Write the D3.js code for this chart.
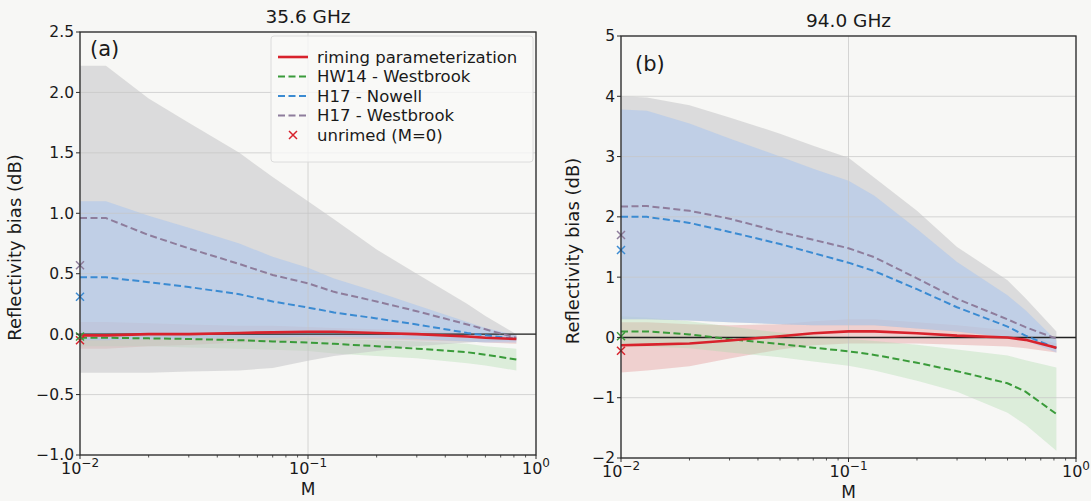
<!DOCTYPE html>
<html><head><meta charset="utf-8">
<script src="https://cdn.jsdelivr.net/npm/d3@7"></script>
<style>
body{margin:0;background:#f7f7f5;}
svg{display:block;font-family:"DejaVu Sans",sans-serif;}
</style></head>
<body><svg id="c" width="1091" height="501"></svg>
<script>
// ---- data ----
const M = [0.01, 0.013, 0.02, 0.03, 0.05, 0.07, 0.1, 0.13, 0.2, 0.3, 0.5, 0.6, 0.82];

// panel (a) 35.6 GHz
const aRiming   = [-0.01, -0.01, 0.0, 0.0, 0.01, 0.015, 0.02, 0.02, 0.01, 0.0, -0.02, -0.03, -0.04];
const aHW14     = [-0.03, -0.03, -0.035, -0.04, -0.05, -0.06, -0.07, -0.08, -0.10, -0.12, -0.15, -0.17, -0.21];
const aNowell   = [0.47, 0.47, 0.43, 0.39, 0.33, 0.27, 0.22, 0.18, 0.13, 0.08, 0.01, -0.01, -0.04];
const aWestb    = [0.96, 0.96, 0.82, 0.71, 0.58, 0.49, 0.42, 0.35, 0.27, 0.19, 0.08, 0.04, -0.03];
const aWestbHi  = [2.22, 2.22, 1.95, 1.75, 1.5, 1.3, 1.1, 0.95, 0.7, 0.5, 0.25, 0.15, 0.0];
const aWestbLo  = [-0.32, -0.32, -0.32, -0.31, -0.3, -0.28, -0.22, -0.18, -0.14, -0.1, -0.07, -0.06, -0.05];
const aNowellHi = [1.1, 1.1, 0.98, 0.88, 0.75, 0.64, 0.55, 0.46, 0.35, 0.24, 0.1, 0.05, -0.01];
const aNowellLo = [-0.05, -0.05, -0.04, -0.04, -0.03, -0.03, -0.02, -0.02, -0.03, -0.04, -0.06, -0.07, -0.07];
const aRimingHi = [0.1, 0.1, 0.09, 0.08, 0.07, 0.07, 0.06, 0.05, 0.04, 0.03, 0.01, 0.0, -0.01];
const aRimingLo = [-0.12, -0.12, -0.1, -0.09, -0.07, -0.06, -0.05, -0.04, -0.04, -0.05, -0.06, -0.07, -0.08];
const aHW14Hi   = [0.02, 0.02, 0.01, 0.0, -0.01, -0.02, -0.03, -0.04, -0.05, -0.06, -0.08, -0.1, -0.12];
const aHW14Lo   = [-0.1, -0.1, -0.1, -0.11, -0.12, -0.13, -0.14, -0.16, -0.18, -0.2, -0.24, -0.26, -0.3];
const aUnrimed  = [-0.05, -0.02, 0.31, 0.57]; // riming, HW14, Nowell, Westbrook

// panel (b) 94.0 GHz
const bRiming   = [-0.13, -0.12, -0.10, -0.05, 0.02, 0.07, 0.10, 0.10, 0.07, 0.03, 0.0, -0.04, -0.17];
const bHW14     = [0.10, 0.10, 0.05, -0.03, -0.11, -0.17, -0.23, -0.29, -0.42, -0.56, -0.76, -0.90, -1.27];
const bNowell   = [2.0, 2.0, 1.90, 1.75, 1.55, 1.40, 1.24, 1.10, 0.80, 0.50, 0.18, 0.03, -0.18];
const bWestb    = [2.17, 2.18, 2.10, 1.97, 1.75, 1.62, 1.48, 1.33, 0.98, 0.64, 0.30, 0.17, -0.02];
const bWestbHi  = [4.0, 3.98, 3.85, 3.65, 3.38, 3.18, 2.98, 2.65, 2.1, 1.5, 0.95, 0.65, 0.1];
const bWestbLo  = [0.3, 0.3, 0.28, 0.25, 0.22, 0.2, 0.2, 0.2, 0.15, 0.1, 0.0, -0.05, -0.15];
const bNowellHi = [3.78, 3.76, 3.55, 3.3, 3.0, 2.8, 2.6, 2.35, 1.8, 1.25, 0.7, 0.45, -0.05];
const bNowellLo = [0.3, 0.3, 0.28, 0.25, 0.22, 0.2, 0.2, 0.2, 0.15, 0.1, 0.0, -0.05, -0.25];
const bRimingHi = [0.25, 0.25, 0.22, 0.2, 0.22, 0.27, 0.3, 0.3, 0.25, 0.2, 0.12, 0.05, -0.1];
const bRimingLo = [-0.58, -0.55, -0.48, -0.35, -0.2, -0.13, -0.1, -0.1, -0.1, -0.12, -0.15, -0.18, -0.25];
const bHW14Hi   = [0.35, 0.33, 0.27, 0.18, 0.08, 0.03, -0.02, -0.06, -0.12, -0.2, -0.3, -0.38, -0.5];
const bHW14Lo   = [-0.15, -0.15, -0.18, -0.25, -0.33, -0.4, -0.47, -0.55, -0.72, -0.9, -1.25, -1.45, -1.88];
const bUnrimed  = [-0.22, 0.02, 1.45, 1.70];

const aYTicks = [-1.0, -0.5, 0.0, 0.5, 1.0, 1.5, 2.0, 2.5];
const bYTicks = [-2, -1, 0, 1, 2, 3, 4, 5];
const xTicks = [0.01, 0.1, 1];
const xTickExp = ["\u22122", "\u22121", "0"];
const seriesNames = ["riming parameterization", "HW14 - Westbrook", "H17 - Nowell", "H17 - Westbrook"];
const unrimedName = "unrimed (M=0)";

// ---- style ----
const colors = {riming:"#d8222c", hw14:"#3a9b3a", nowell:"#3b8bd2", westb:"#8e7d9c", unr:"#d8222c"};
const bandFill = {westb:"#c4c4c6", nowell:"#a6c4f0", riming:"#e39696", hw14:"#a8daa8"};
const bandOp = {westb:0.55, nowell:0.5, riming:0.4, hw14:0.35};

const svg = d3.select("#c");

function fmtY(v, dec){ const s = dec ? v.toFixed(1) : String(v); return s.replace("-", "\u2212"); }

function panel(cfg){
  const {x0, x1, y0, y1, yDom, yTicks, dec, title, tag, tagDx, tagDy, ylabDx, d} = cfg;
  const x = d3.scaleLog().domain([0.01, 1]).range([x0, x1]);
  const y = d3.scaleLinear().domain(yDom).range([y1, y0]);
  const g = svg.append("g");

  const area = (hi, lo) => d3.area().x((v,i)=>x(M[i])).y0((v,i)=>y(lo[i])).y1((v,i)=>y(hi[i]))(hi);
  const line = (arr) => d3.line().x((v,i)=>x(M[i])).y(v=>y(v))(arr);

  // bands
  [["riming", d.rimingHi, d.rimingLo], ["hw14", d.hw14Hi, d.hw14Lo], ["westb", d.westbHi, d.westbLo], ["nowell", d.nowellHi, d.nowellLo]]
    .forEach(([k, hi, lo]) => g.append("path").attr("d", area(hi, lo)).attr("fill", bandFill[k]).attr("fill-opacity", bandOp[k]));

  // grid (above bands, below lines)
  g.selectAll(".gy").data(yTicks).join("line")
    .attr("x1", x0).attr("x2", x1).attr("y1", v=>y(v)).attr("y2", v=>y(v))
    .attr("stroke", "#c6c6c6").attr("stroke-opacity", 0.8).attr("stroke-width", 0.9);
  g.selectAll(".gx").data(xTicks).join("line")
    .attr("x1", v=>x(v)).attr("x2", v=>x(v)).attr("y1", y0).attr("y2", y1)
    .attr("stroke", "#c6c6c6").attr("stroke-opacity", 0.8).attr("stroke-width", 0.9);

  // zero line
  g.append("line").attr("x1", x0).attr("x2", x1).attr("y1", y(0)).attr("y2", y(0)).attr("stroke", "#222").attr("stroke-width", 1.4);

  // lines
  g.append("path").attr("d", line(d.hw14)).attr("fill","none").attr("stroke", colors.hw14).attr("stroke-width", 2).attr("stroke-dasharray","7,3.5");
  g.append("path").attr("d", line(d.nowell)).attr("fill","none").attr("stroke", colors.nowell).attr("stroke-width", 2).attr("stroke-dasharray","7,3.5");
  g.append("path").attr("d", line(d.westb)).attr("fill","none").attr("stroke", colors.westb).attr("stroke-width", 2).attr("stroke-dasharray","7,3.5");
  g.append("path").attr("d", line(d.riming)).attr("fill","none").attr("stroke", colors.riming).attr("stroke-width", 2.6);

  // unrimed markers
  const uc = [colors.riming, colors.hw14, colors.nowell, colors.westb];
  d.unrimed.forEach((v, i) => {
    const cx = x(M[0]), cy = y(v), s = 4;
    g.append("path").attr("d", `M${cx-s},${cy-s}L${cx+s},${cy+s}M${cx-s},${cy+s}L${cx+s},${cy-s}`)
      .attr("stroke", uc[i]).attr("stroke-width", 1.5).attr("fill","none");
  });

  // frame
  g.append("rect").attr("x", x0).attr("y", y0).attr("width", x1-x0).attr("height", y1-y0)
    .attr("fill","none").attr("stroke","#2a2a2a").attr("stroke-width",1.3);

  // y ticks
  yTicks.forEach(v => {
    g.append("line").attr("x1", x0-4).attr("x2", x0).attr("y1", y(v)).attr("y2", y(v)).attr("stroke","#2a2a2a").attr("stroke-width",1);
    g.append("text").attr("x", x0-6).attr("y", y(v)).attr("dy","0.35em").attr("text-anchor","end")
      .attr("font-size", 15.5).attr("fill","#1a1a1a").text(fmtY(v, dec));
  });
  // x major ticks
  xTicks.forEach((v, i) => {
    g.append("line").attr("x1", x(v)).attr("x2", x(v)).attr("y1", y1).attr("y2", y1+4).attr("stroke","#2a2a2a").attr("stroke-width",1);
    const t = g.append("text").attr("x", x(v)).attr("y", y1+19).attr("text-anchor","middle").attr("font-size",16).attr("fill","#1a1a1a");
    t.append("tspan").text("10");
    t.append("tspan").attr("dy", -7).attr("font-size", 12).text(xTickExp[i]);
  });
  // x minor ticks
  const minors = [];
  [0.01, 0.1].forEach(dd => { for (let k=2;k<=9;k++) minors.push(dd*k); });
  g.selectAll(".mn").data(minors).join("line")
    .attr("x1", v=>x(v)).attr("x2", v=>x(v)).attr("y1", y1).attr("y2", y1+2.5).attr("stroke","#2a2a2a").attr("stroke-width",0.8);

  // labels
  g.append("text").attr("x", (x0+x1)/2).attr("y", y1+40).attr("text-anchor","middle").attr("font-size",17).attr("fill","#1a1a1a").text("M");
  g.append("text").attr("transform", `translate(${x0-ylabDx},${(y0+y1)/2+4}) rotate(-90)`).attr("text-anchor","middle")
    .attr("font-size",18).attr("fill","#1a1a1a").text("Reflectivity bias (dB)");
  g.append("text").attr("x", (x0+x1)/2).attr("y", y0-9).attr("text-anchor","middle").attr("font-size",18.5).attr("fill","#1a1a1a").text(title);
  g.append("text").attr("x", x0+tagDx).attr("y", y0+tagDy).attr("font-size",21).attr("fill","#1a1a1a").text(tag);
  return {x, y, g};
}

panel({x0:80, x1:536, y0:32, y1:455, yDom:[-1, 2.5], yTicks:aYTicks, dec:true, title:"35.6 GHz", tag:"(a)", tagDx:10, tagDy:24, ylabDx:59,
  d:{riming:aRiming, hw14:aHW14, nowell:aNowell, westb:aWestb, westbHi:aWestbHi, westbLo:aWestbLo, nowellHi:aNowellHi, nowellLo:aNowellLo,
     rimingHi:aRimingHi, rimingLo:aRimingLo, hw14Hi:aHW14Hi, hw14Lo:aHW14Lo, unrimed:aUnrimed}});
panel({x0:621, x1:1076, y0:36, y1:458, yDom:[-2, 5], yTicks:bYTicks, dec:false, title:"94.0 GHz", tag:"(b)", tagDx:14, tagDy:35, ylabDx:42,
  d:{riming:bRiming, hw14:bHW14, nowell:bNowell, westb:bWestb, westbHi:bWestbHi, westbLo:bWestbLo, nowellHi:bNowellHi, nowellLo:bNowellLo,
     rimingHi:bRimingHi, rimingLo:bRimingLo, hw14Hi:bHW14Hi, hw14Lo:bHW14Lo, unrimed:bUnrimed}});

// legend (panel a)
const lg = svg.append("g");
const lx = 271, ly = 36, lw = 262, lh = 126;
lg.append("rect").attr("x", lx).attr("y", ly).attr("width", lw).attr("height", lh).attr("rx", 3)
  .attr("fill", "#f9f9f8").attr("fill-opacity", 0.8).attr("stroke", "#dcdcdc");
const legStyle = [
  {c:colors.riming, w:2.6, dash:null},
  {c:colors.hw14, w:2, dash:"7,3.5"},
  {c:colors.nowell, w:2, dash:"7,3.5"},
  {c:colors.westb, w:2, dash:"7,3.5"}
];
seriesNames.forEach((nm, i) => {
  const yy = ly + 21 + i*19.5;
  lg.append("line").attr("x1", lx+7).attr("x2", lx+37).attr("y1", yy).attr("y2", yy)
    .attr("stroke", legStyle[i].c).attr("stroke-width", legStyle[i].w).attr("stroke-dasharray", legStyle[i].dash);
  lg.append("text").attr("x", lx+46).attr("y", yy).attr("dy","0.35em").attr("font-size",16.5).attr("fill","#1a1a1a").text(nm);
});
{
  const yy = ly + 21 + 4*19.5, cx = lx+22, s = 4;
  lg.append("path").attr("d", `M${cx-s},${yy-s}L${cx+s},${yy+s}M${cx-s},${yy+s}L${cx+s},${yy-s}`).attr("stroke", colors.unr).attr("stroke-width",1.5);
  lg.append("text").attr("x", lx+46).attr("y", yy).attr("dy","0.35em").attr("font-size",16.5).attr("fill","#1a1a1a").text(unrimedName);
}
</script></body></html>
